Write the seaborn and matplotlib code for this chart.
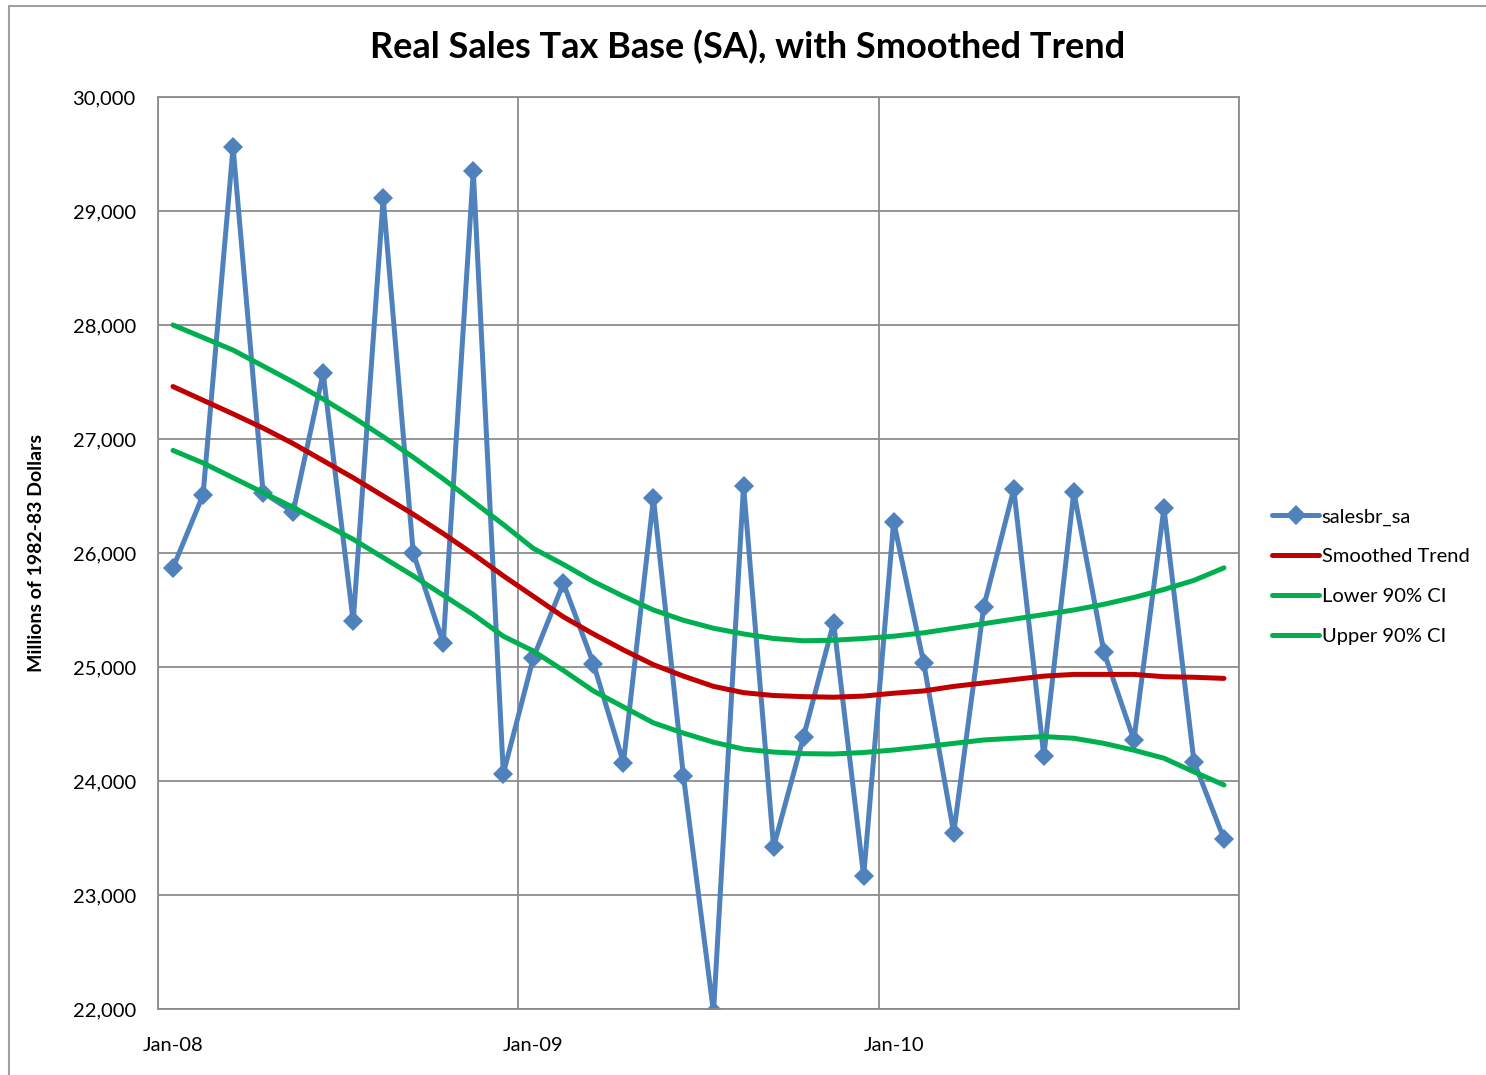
import numpy as np
import pandas as pd
import seaborn as sns
import matplotlib.pyplot as plt
from matplotlib.lines import Line2D

# monthly values, Jan-08 .. Dec-10
months = pd.date_range('2008-01-01', periods=36, freq='MS')
month_labels = [m.strftime('%b-%y') for m in months]

salesbr_sa = [25870, 26510, 29560, 26530, 26360, 27580, 25400, 29110, 26000, 25210,
              29350, 24065, 25080, 25735, 25030, 24160, 26480, 24040, 21970, 26590,
              23420, 24390, 25390, 23165, 26275, 25035, 23545, 25530, 26560, 24220,
              26535, 25132, 24360, 26395, 24170, 23490]

smoothed = [27460, 27340, 27220, 27096, 26960, 26810, 26660, 26500, 26340, 26170,
            25990, 25800, 25620, 25440, 25290, 25150, 25020, 24920, 24830, 24775,
            24750, 24740, 24735, 24745, 24770, 24790, 24830, 24860, 24890, 24920,
            24935, 24935, 24935, 24915, 24910, 24900]

lower_ci = [26900, 26790, 26660, 26530, 26400, 26260, 26120, 25960, 25800, 25630,
            25460, 25270, 25140, 24970, 24790, 24650, 24510, 24420, 24340, 24280,
            24254, 24240, 24237, 24250, 24272, 24300, 24330, 24360, 24375, 24390,
            24375, 24330, 24270, 24200, 24080, 23965]

upper_ci = [28000, 27890, 27780, 27640, 27500, 27350, 27190, 27020, 26840, 26650,
            26450, 26250, 26040, 25900, 25750, 25620, 25500, 25410, 25340, 25290,
            25250, 25230, 25235, 25250, 25270, 25300, 25340, 25380, 25420, 25460,
            25500, 25550, 25610, 25680, 25760, 25870]

y_ticks = [22000, 23000, 24000, 25000, 26000, 27000, 28000, 29000, 30000]

df = pd.DataFrame({'idx': np.arange(len(months)), 'month': month_labels,
                   'salesbr_sa': salesbr_sa, 'Smoothed Trend': smoothed,
                   'Lower 90% CI': lower_ci, 'Upper 90% CI': upper_ci})

sns.set_style('white')
plt.rcParams['font.family'] = ['Lato', 'DejaVu Sans']
plt.rcParams['text.color'] = 'black'
plt.rcParams['xtick.color'] = 'black'
plt.rcParams['ytick.color'] = 'black'
plt.rcParams['axes.labelcolor'] = 'black'

fig = plt.figure(figsize=(14.86, 10.75), dpi=100)
ax = fig.add_axes([158 / 1486, 1 - 1009 / 1075, (1239 - 158) / 1486, (1009 - 97) / 1075])

grid_col = '#8c8c8c'
blue = '#4F81BD'
red = '#C00000'
green = '#00B050'

sns.lineplot(data=df, x='idx', y='salesbr_sa', ax=ax, color=blue, lw=3.6,
             marker='D', markersize=10, markeredgewidth=0, label='salesbr_sa')
sns.lineplot(data=df, x='idx', y='Smoothed Trend', ax=ax, color=red, lw=3.6,
             label='Smoothed Trend')
sns.lineplot(data=df, x='idx', y='Lower 90% CI', ax=ax, color=green, lw=3.6,
             label='Lower 90% CI')
sns.lineplot(data=df, x='idx', y='Upper 90% CI', ax=ax, color=green, lw=3.6,
             label='Upper 90% CI')

ax.set_xlim(-0.5, 35.5)
ax.set_ylim(22000, 30000)
ax.set_yticks(y_ticks)
ax.set_yticklabels([f'{v:,}' for v in y_ticks], fontsize=14.5)

# category boundaries every 12 months carry ticks and gridlines
ax.set_xticks([-0.5, 11.5, 23.5, 35.5])
ax.set_xticklabels([])
ax.set_xticks([0, 12, 24], minor=True)
ax.set_xticklabels([month_labels[i] for i in [0, 12, 24]], minor=True, fontsize=14.5)
ax.tick_params(axis='x', which='minor', length=0, pad=20)
ax.tick_params(axis='x', which='major', length=8, width=1.2, color=grid_col, direction='out')
ax.tick_params(axis='y', length=8, width=1.2, color=grid_col, direction='out', pad=8,
               labelcolor='black')

ax.grid(True, which='major', color=grid_col, lw=1.3)
ax.set_axisbelow(True)
for s in ax.spines.values():
    s.set_color(grid_col)
    s.set_linewidth(1.3)

ax.set_xlabel('')
ax.set_ylabel('Millions of 1982-83 Dollars', fontsize=14, fontweight='bold', labelpad=20)
fig.text(748 / 1486, 1 - 47 / 1075, 'Real Sales Tax Base (SA), with Smoothed Trend',
         fontsize=26, fontweight='bold', ha='center', va='center')

ax.legend(loc='center left', bbox_to_anchor=(1.0305, 0.474), frameon=False, fontsize=14.5,
          handlelength=2.35, labelspacing=1.13, handletextpad=0.12,
          borderpad=0, borderaxespad=0)

# outer chart border (left and top edges visible)
fig.add_artist(Line2D([9 / 1486, 9 / 1486], [0, 1 - 6 / 1075], color='#a0a0a0', lw=1.5))
fig.add_artist(Line2D([9 / 1486, 1], [1 - 6 / 1075, 1 - 6 / 1075], color='#a0a0a0', lw=1.5))

fig.savefig('out.png', dpi=100)
